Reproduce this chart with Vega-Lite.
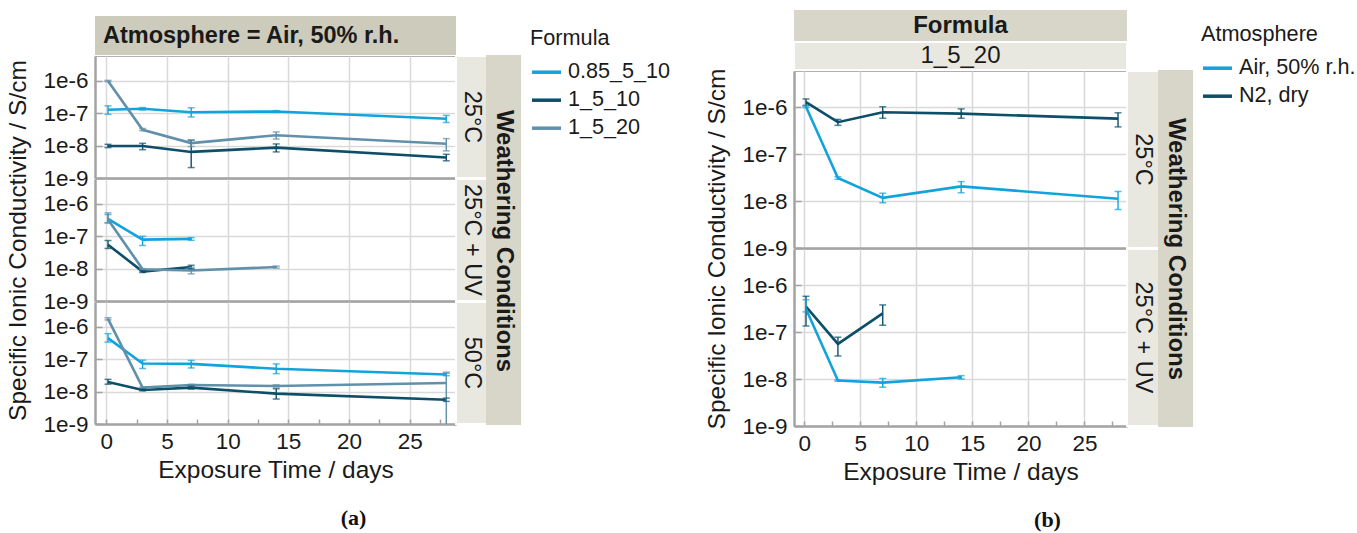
{
"$schema": "https://vega.github.io/schema/vega-lite/v6.json",
"padding": {"left": 5, "top": 10, "right": 0, "bottom": 0},
"autosize": {"type": "pad"},
"datasets": {
"a": [
{"cond":"25°C","f":"0.85_5_10","d":0.15,"v":1.28e-7,"lo":9.3e-8,"hi":1.7e-7},
{"cond":"25°C","f":"0.85_5_10","d":3,"v":1.38e-7,"lo":1.27e-7,"hi":1.5e-7},
{"cond":"25°C","f":"0.85_5_10","d":7,"v":1.08e-7,"lo":7.7e-8,"hi":1.48e-7},
{"cond":"25°C","f":"0.85_5_10","d":14,"v":1.14e-7,"lo":1.07e-7,"hi":1.21e-7},
{"cond":"25°C","f":"0.85_5_10","d":28,"v":6.8e-8,"lo":5.2e-8,"hi":8.6e-8},
{"cond":"25°C","f":"1_5_10","d":0.15,"v":9.8e-9,"lo":8.7e-9,"hi":1.1e-8},
{"cond":"25°C","f":"1_5_10","d":3,"v":9.7e-9,"lo":7.5e-9,"hi":1.18e-8},
{"cond":"25°C","f":"1_5_10","d":7,"v":6.4e-9,"lo":2.1e-9,"hi":1.48e-8},
{"cond":"25°C","f":"1_5_10","d":14,"v":8.7e-9,"lo":6.4e-9,"hi":1.13e-8},
{"cond":"25°C","f":"1_5_10","d":28,"v":4.3e-9,"lo":3.4e-9,"hi":5.4e-9},
{"cond":"25°C","f":"1_5_20","d":0.15,"v":1.0e-6,"lo":9.6e-7,"hi":1.04e-6},
{"cond":"25°C","f":"1_5_20","d":3,"v":3.1e-8,"lo":2.9e-8,"hi":3.4e-8},
{"cond":"25°C","f":"1_5_20","d":7,"v":1.2e-8,"lo":9.4e-9,"hi":1.5e-8},
{"cond":"25°C","f":"1_5_20","d":14,"v":2.1e-8,"lo":1.6e-8,"hi":2.65e-8},
{"cond":"25°C","f":"1_5_20","d":28,"v":1.15e-8,"lo":6.9e-9,"hi":1.65e-8},
{"cond":"25°C + UV","f":"0.85_5_10","d":0.15,"v":3.45e-7,"lo":2.6e-7,"hi":4.7e-7},
{"cond":"25°C + UV","f":"0.85_5_10","d":3,"v":7.9e-8,"lo":5.2e-8,"hi":1.0e-7},
{"cond":"25°C + UV","f":"0.85_5_10","d":7,"v":8.3e-8,"lo":7.5e-8,"hi":9.1e-8},
{"cond":"25°C + UV","f":"1_5_10","d":0.15,"v":5.5e-8,"lo":4.2e-8,"hi":7.4e-8},
{"cond":"25°C + UV","f":"1_5_10","d":3,"v":8.1e-9,"lo":7.6e-9,"hi":8.6e-9},
{"cond":"25°C + UV","f":"1_5_10","d":7,"v":1.12e-8,"lo":9.9e-9,"hi":1.27e-8},
{"cond":"25°C + UV","f":"1_5_20","d":0.15,"v":3.3e-7,"lo":2.6e-7,"hi":5.3e-7},
{"cond":"25°C + UV","f":"1_5_20","d":3,"v":9.6e-9,"lo":9.2e-9,"hi":1.0e-8},
{"cond":"25°C + UV","f":"1_5_20","d":7,"v":8.8e-9,"lo":6.9e-9,"hi":1.1e-8},
{"cond":"25°C + UV","f":"1_5_20","d":14,"v":1.12e-8,"lo":1.04e-8,"hi":1.2e-8},
{"cond":"50°C","f":"0.85_5_10","d":0.15,"v":4.5e-7,"lo":3.4e-7,"hi":6.2e-7},
{"cond":"50°C","f":"0.85_5_10","d":3,"v":7.4e-8,"lo":5.2e-8,"hi":9.4e-8},
{"cond":"50°C","f":"0.85_5_10","d":7,"v":7.2e-8,"lo":5.4e-8,"hi":9.2e-8},
{"cond":"50°C","f":"0.85_5_10","d":14,"v":5.1e-8,"lo":3.6e-8,"hi":7.2e-8},
{"cond":"50°C","f":"0.85_5_10","d":28,"v":3.4e-8,"lo":3.1e-8,"hi":3.7e-8},
{"cond":"50°C","f":"1_5_10","d":0.15,"v":2.0e-8,"lo":1.7e-8,"hi":2.4e-8},
{"cond":"50°C","f":"1_5_10","d":3,"v":1.13e-8,"lo":1.06e-8,"hi":1.2e-8},
{"cond":"50°C","f":"1_5_10","d":7,"v":1.33e-8,"lo":1.2e-8,"hi":1.48e-8},
{"cond":"50°C","f":"1_5_10","d":14,"v":8.7e-9,"lo":5.9e-9,"hi":1.23e-8},
{"cond":"50°C","f":"1_5_10","d":28,"v":5.6e-9,"lo":5.0e-9,"hi":6.3e-9},
{"cond":"50°C","f":"1_5_20","d":0.15,"v":1.78e-6,"lo":1.65e-6,"hi":1.92e-6},
{"cond":"50°C","f":"1_5_20","d":3,"v":1.33e-8,"lo":1.28e-8,"hi":1.38e-8},
{"cond":"50°C","f":"1_5_20","d":7,"v":1.6e-8,"lo":1.52e-8,"hi":1.68e-8},
{"cond":"50°C","f":"1_5_20","d":14,"v":1.5e-8,"lo":1.38e-8,"hi":1.63e-8},
{"cond":"50°C","f":"1_5_20","d":28,"v":1.85e-8,"lo":1e-10,"hi":4.0e-8}
],
"b": [
{"cond":"25°C","atm":"N2, dry","d":0.15,"v":1.28e-6,"lo":1.09e-6,"hi":1.5e-6},
{"cond":"25°C","atm":"N2, dry","d":3,"v":4.8e-7,"lo":4.1e-7,"hi":5.5e-7},
{"cond":"25°C","atm":"N2, dry","d":7,"v":7.8e-7,"lo":5.8e-7,"hi":1.02e-6},
{"cond":"25°C","atm":"N2, dry","d":14,"v":7.3e-7,"lo":5.8e-7,"hi":9.2e-7},
{"cond":"25°C","atm":"N2, dry","d":28,"v":5.7e-7,"lo":3.8e-7,"hi":7.6e-7},
{"cond":"25°C","atm":"Air, 50% r.h.","d":0.15,"v":1.02e-6,"lo":9.8e-7,"hi":1.06e-6},
{"cond":"25°C","atm":"Air, 50% r.h.","d":3,"v":3.1e-8,"lo":2.9e-8,"hi":3.3e-8},
{"cond":"25°C","atm":"Air, 50% r.h.","d":7,"v":1.17e-8,"lo":9.2e-9,"hi":1.47e-8},
{"cond":"25°C","atm":"Air, 50% r.h.","d":14,"v":2.05e-8,"lo":1.5e-8,"hi":2.6e-8},
{"cond":"25°C","atm":"Air, 50% r.h.","d":28,"v":1.12e-8,"lo":6.6e-9,"hi":1.6e-8},
{"cond":"25°C + UV","atm":"N2, dry","d":0.15,"v":3.5e-7,"lo":1.35e-7,"hi":5.8e-7},
{"cond":"25°C + UV","atm":"N2, dry","d":3,"v":5.6e-8,"lo":3.1e-8,"hi":7.8e-8},
{"cond":"25°C + UV","atm":"N2, dry","d":7,"v":2.5e-7,"lo":1.4e-7,"hi":3.8e-7},
{"cond":"25°C + UV","atm":"Air, 50% r.h.","d":0.15,"v":3.1e-7,"lo":2.7e-7,"hi":4.9e-7},
{"cond":"25°C + UV","atm":"Air, 50% r.h.","d":3,"v":9.3e-9,"lo":9.0e-9,"hi":9.6e-9},
{"cond":"25°C + UV","atm":"Air, 50% r.h.","d":7,"v":8.4e-9,"lo":6.7e-9,"hi":1.03e-8},
{"cond":"25°C + UV","atm":"Air, 50% r.h.","d":14,"v":1.09e-8,"lo":1.0e-8,"hi":1.18e-8}
]
},
"hconcat": [
{
"spacing": 0,
"vconcat": [
{"width": 10, "height": 6, "data": {"values": []}, "mark": "text"},
{
"columns": 3,
"spacing": {"row": 1, "column": 0},
"bounds": "flush",
"concat": [
{"width": 361, "height": 39, "view": {"fill": "#cdcbbc", "stroke": null},
 "data": {"values": [{"label": "Atmosphere = Air, 50% r.h."}]},
 "mark": {"type": "text", "align": "left", "dx": 8, "fontSize": 23.5, "fontWeight": "bold"},
 "encoding": {"text": {"field": "label"}, "x": {"datum": 0, "type": "quantitative", "scale": {"domain": [0, 1], "nice": false}, "axis": null}}},
{"width": 31, "height": 39, "data": {"values": []}, "mark": "text"},
{"width": 33, "height": 39, "data": {"values": []}, "mark": "text"},
{"width": 361, "height": 122, "view": {"stroke": "#b0b0b0", "strokeWidth": 1},
 "data": {"name": "a"}, "transform": [{"filter": {"field": "cond", "equal": "25°C"}}],
 "encoding": {
  "x": {"field": "d", "type": "quantitative", "scale": {"domain": [-0.92, 28.8], "nice": false, "zero": false}, "axis": {"values": [0,5,10,15,20,25], "labels": false, "ticks": false, "title": null}},
  "color": {"field": "f", "type": "nominal", "scale": {"domain": ["0.85_5_10","1_5_10","1_5_20"], "range": ["#13a3dc","#0d4e69","#6190aa"]}, "legend": {"title": "Formula", "orient": "none", "legendX": 435, "legendY": 18, "symbolType": "stroke", "symbolSize": 840, "symbolStrokeWidth": 3.5, "symbolOpacity": 1, "labelOffset": 5, "rowPadding": -1, "titlePadding": 6}}
 },
 "layer": [
  {"mark": {"type": "line", "strokeWidth": 2.6, "clip": true}, "encoding": {"y": {"field": "v", "type": "quantitative", "scale": {"type": "log", "domain": [1e-9, 5.9e-6], "nice": false}, "axis": {"values": [1e-9,1e-8,1e-7,1e-6], "format": ".0e", "labelOverlap": false, "tickSize": -7, "tickWidth": 1.5, "labelPadding": 14, "title": null}}}},
  {"mark": {"type": "rule", "strokeWidth": 1.4, "clip": true}, "encoding": {"y": {"field": "lo", "type": "quantitative", "scale": {"type": "log", "domain": [1e-9, 5.9e-6], "nice": false}, "axis": {"values": [1e-9,1e-8,1e-7,1e-6], "format": ".0e", "labelOverlap": false, "tickSize": -7, "tickWidth": 1.5, "labelPadding": 14, "title": null}}, "y2": {"field": "hi"}}},
  {"mark": {"type": "tick", "orient": "horizontal", "size": 7, "thickness": 1.5, "clip": true}, "encoding": {"y": {"field": "lo", "type": "quantitative", "scale": {"type": "log", "domain": [1e-9, 5.9e-6], "nice": false}, "axis": {"values": [1e-9,1e-8,1e-7,1e-6], "format": ".0e", "labelOverlap": false, "tickSize": -7, "tickWidth": 1.5, "labelPadding": 14, "title": null}}}},
  {"mark": {"type": "tick", "orient": "horizontal", "size": 7, "thickness": 1.5, "clip": true}, "encoding": {"y": {"field": "hi", "type": "quantitative", "scale": {"type": "log", "domain": [1e-9, 5.9e-6], "nice": false}, "axis": {"values": [1e-9,1e-8,1e-7,1e-6], "format": ".0e", "labelOverlap": false, "tickSize": -7, "tickWidth": 1.5, "labelPadding": 14, "title": null}}}}
 ]},
{"width": 31, "height": 122, "view": {"fill": "#e8e8e0", "stroke": "#ffffff", "strokeWidth": 2},
 "data": {"values": [{"label": "25°C"}]}, "mark": {"type": "text", "angle": 90, "fontSize": 23.5}, "encoding": {"text": {"field": "label"}}},
{"width": 33, "height": 122, "view": {"fill": "#d8d6c8", "stroke": "#d8d6c8", "strokeWidth": 2}, "data": {"values": []}, "mark": "text"},
{"width": 361, "height": 122, "view": {"stroke": "#b0b0b0", "strokeWidth": 1},
 "data": {"name": "a"}, "transform": [{"filter": {"field": "cond", "equal": "25°C + UV"}}],
 "encoding": {
  "x": {"field": "d", "type": "quantitative", "scale": {"domain": [-0.92, 28.8], "nice": false, "zero": false}, "axis": {"values": [0,5,10,15,20,25], "labels": false, "ticks": false, "title": null}},
  "color": {"field": "f", "type": "nominal", "scale": {"domain": ["0.85_5_10","1_5_10","1_5_20"], "range": ["#13a3dc","#0d4e69","#6190aa"]}, "legend": {"title": "Formula", "orient": "none", "legendX": 435, "legendY": 18, "symbolType": "stroke", "symbolSize": 840, "symbolStrokeWidth": 3.5, "symbolOpacity": 1, "labelOffset": 5, "rowPadding": -1, "titlePadding": 6}}
 },
 "layer": [
  {"mark": {"type": "line", "strokeWidth": 2.6, "clip": true}, "encoding": {"y": {"field": "v", "type": "quantitative", "scale": {"type": "log", "domain": [1e-9, 5.9e-6], "nice": false}, "axis": {"values": [1e-9,1e-8,1e-7,1e-6], "format": ".0e", "labelOverlap": false, "tickSize": -7, "tickWidth": 1.5, "labelPadding": 14, "title": "Specific Ionic Conductivity / S/cm", "titlePadding": 12}}}},
  {"mark": {"type": "rule", "strokeWidth": 1.4, "clip": true}, "encoding": {"y": {"field": "lo", "type": "quantitative", "scale": {"type": "log", "domain": [1e-9, 5.9e-6], "nice": false}, "axis": {"values": [1e-9,1e-8,1e-7,1e-6], "format": ".0e", "labelOverlap": false, "tickSize": -7, "tickWidth": 1.5, "labelPadding": 14, "title": "Specific Ionic Conductivity / S/cm", "titlePadding": 12}}, "y2": {"field": "hi"}}},
  {"mark": {"type": "tick", "orient": "horizontal", "size": 7, "thickness": 1.5, "clip": true}, "encoding": {"y": {"field": "lo", "type": "quantitative", "scale": {"type": "log", "domain": [1e-9, 5.9e-6], "nice": false}, "axis": {"values": [1e-9,1e-8,1e-7,1e-6], "format": ".0e", "labelOverlap": false, "tickSize": -7, "tickWidth": 1.5, "labelPadding": 14, "title": "Specific Ionic Conductivity / S/cm", "titlePadding": 12}}}},
  {"mark": {"type": "tick", "orient": "horizontal", "size": 7, "thickness": 1.5, "clip": true}, "encoding": {"y": {"field": "hi", "type": "quantitative", "scale": {"type": "log", "domain": [1e-9, 5.9e-6], "nice": false}, "axis": {"values": [1e-9,1e-8,1e-7,1e-6], "format": ".0e", "labelOverlap": false, "tickSize": -7, "tickWidth": 1.5, "labelPadding": 14, "title": "Specific Ionic Conductivity / S/cm", "titlePadding": 12}}}}
 ]},
{"width": 31, "height": 122, "view": {"fill": "#e8e8e0", "stroke": "#ffffff", "strokeWidth": 2},
 "data": {"values": [{"label": "25°C + UV"}]}, "mark": {"type": "text", "angle": 90, "fontSize": 23.5}, "encoding": {"text": {"field": "label"}}},
{"width": 33, "height": 122, "view": {"fill": "#d8d6c8", "stroke": "#d8d6c8", "strokeWidth": 2}, "data": {"values": []}, "mark": "text"},
{"width": 361, "height": 122, "view": {"stroke": "#b0b0b0", "strokeWidth": 1},
 "title": {"text": "(a)", "orient": "bottom", "anchor": "middle", "frame": "group", "dx": 78, "offset": 26, "font": "Liberation Serif", "fontWeight": "bold", "fontSize": 22, "color": "#111111"},
 "data": {"name": "a"}, "transform": [{"filter": {"field": "cond", "equal": "50°C"}}],
 "encoding": {
  "x": {"field": "d", "type": "quantitative", "scale": {"domain": [-0.92, 28.8], "nice": false, "zero": false}, "axis": {"values": [0,2.5,5,7.5,10,12.5,15,17.5,20,22.5,25,27.5], "labelExpr": "datum.value % 5 === 0 ? datum.label : ''", "gridOpacity": {"condition": {"test": "datum.value % 5 !== 0", "value": 0}, "value": 1}, "tickSize": -5, "tickWidth": 1.5, "labelPadding": 11, "labelFlush": false, "labelOverlap": false, "title": "Exposure Time / days", "titlePadding": 6}},
  "color": {"field": "f", "type": "nominal", "scale": {"domain": ["0.85_5_10","1_5_10","1_5_20"], "range": ["#13a3dc","#0d4e69","#6190aa"]}, "legend": {"title": "Formula", "orient": "none", "legendX": 435, "legendY": 18, "symbolType": "stroke", "symbolSize": 840, "symbolStrokeWidth": 3.5, "symbolOpacity": 1, "labelOffset": 5, "rowPadding": -1, "titlePadding": 6}}
 },
 "layer": [
  {"mark": {"type": "line", "strokeWidth": 2.6, "clip": true}, "encoding": {"y": {"field": "v", "type": "quantitative", "scale": {"type": "log", "domain": [1e-9, 5.9e-6], "nice": false}, "axis": {"values": [1e-9,1e-8,1e-7,1e-6], "format": ".0e", "labelOverlap": false, "tickSize": -7, "tickWidth": 1.5, "labelPadding": 14, "title": null}}}},
  {"mark": {"type": "rule", "strokeWidth": 1.4, "clip": true}, "encoding": {"y": {"field": "lo", "type": "quantitative", "scale": {"type": "log", "domain": [1e-9, 5.9e-6], "nice": false}, "axis": {"values": [1e-9,1e-8,1e-7,1e-6], "format": ".0e", "labelOverlap": false, "tickSize": -7, "tickWidth": 1.5, "labelPadding": 14, "title": null}}, "y2": {"field": "hi"}}},
  {"mark": {"type": "tick", "orient": "horizontal", "size": 7, "thickness": 1.5, "clip": true}, "encoding": {"y": {"field": "lo", "type": "quantitative", "scale": {"type": "log", "domain": [1e-9, 5.9e-6], "nice": false}, "axis": {"values": [1e-9,1e-8,1e-7,1e-6], "format": ".0e", "labelOverlap": false, "tickSize": -7, "tickWidth": 1.5, "labelPadding": 14, "title": null}}}},
  {"mark": {"type": "tick", "orient": "horizontal", "size": 7, "thickness": 1.5, "clip": true}, "encoding": {"y": {"field": "hi", "type": "quantitative", "scale": {"type": "log", "domain": [1e-9, 5.9e-6], "nice": false}, "axis": {"values": [1e-9,1e-8,1e-7,1e-6], "format": ".0e", "labelOverlap": false, "tickSize": -7, "tickWidth": 1.5, "labelPadding": 14, "title": null}}}}
 ]},
{"width": 31, "height": 122, "view": {"fill": "#e8e8e0", "stroke": "#ffffff", "strokeWidth": 2},
 "data": {"values": [{"label": "50°C"}]}, "mark": {"type": "text", "angle": 90, "fontSize": 23.5}, "encoding": {"text": {"field": "label"}}},
{"width": 33, "height": 122, "view": {"fill": "#d8d6c8", "stroke": "#d8d6c8", "strokeWidth": 2},
 "data": {"values": [{"label": "Weathering Conditions"}]}, "mark": {"type": "text", "angle": 90, "fontSize": 24, "fontWeight": "bold"},
 "encoding": {"text": {"field": "label"}, "y": {"datum": 1.5, "type": "quantitative", "scale": {"domain": [0, 1], "nice": false, "zero": false}, "axis": null}}}
]
}
]
},
{
"columns": 3,
"spacing": {"row": 1, "column": 0},
"bounds": "flush",
"concat": [
{"width": 333, "height": 31, "view": {"fill": "#d8d6c8", "stroke": null},
 "data": {"values": [{"label": "Formula"}]}, "mark": {"type": "text", "fontSize": 24, "fontWeight": "bold"}, "encoding": {"text": {"field": "label"}}},
{"width": 32, "height": 31, "data": {"values": []}, "mark": "text"},
{"width": 33, "height": 31, "data": {"values": []}, "mark": "text"},
{"width": 333, "height": 28, "view": {"fill": "#e8e8e0", "stroke": "#ffffff", "strokeWidth": 2},
 "data": {"values": [{"label": "1_5_20"}]}, "mark": {"type": "text", "fontSize": 24}, "encoding": {"text": {"field": "label"}}},
{"width": 32, "height": 28, "data": {"values": []}, "mark": "text"},
{"width": 33, "height": 28, "data": {"values": []}, "mark": "text"},
{"width": 333, "height": 177, "view": {"stroke": "#b0b0b0", "strokeWidth": 1},
 "data": {"name": "b"}, "transform": [{"filter": {"field": "cond", "equal": "25°C"}}],
 "encoding": {
  "x": {"field": "d", "type": "quantitative", "scale": {"domain": [-0.92, 28.8], "nice": false, "zero": false}, "axis": {"values": [0,5,10,15,20,25], "labels": false, "ticks": false, "title": null}},
  "color": {"field": "atm", "type": "nominal", "scale": {"domain": ["Air, 50% r.h.","N2, dry"], "range": ["#13a3dc","#0d4e69"]}, "legend": {"title": "Atmosphere", "orient": "none", "legendX": 407, "legendY": 14, "symbolType": "stroke", "symbolSize": 840, "symbolStrokeWidth": 3.5, "symbolOpacity": 1, "labelOffset": 5, "rowPadding": -1, "titlePadding": 6}}
 },
 "layer": [
  {"mark": {"type": "line", "strokeWidth": 2.6, "clip": true}, "encoding": {"y": {"field": "v", "type": "quantitative", "scale": {"type": "log", "domain": [1e-9, 5.9e-6], "nice": false}, "axis": {"values": [1e-9,1e-8,1e-7,1e-6], "format": ".0e", "labelOverlap": false, "tickSize": -7, "tickWidth": 1.5, "labelPadding": 14, "title": "Specific Ionic Conductivity / S/cm", "titlePadding": 12, "titleY": 177.5}}}},
  {"mark": {"type": "rule", "strokeWidth": 1.4, "clip": true}, "encoding": {"y": {"field": "lo", "type": "quantitative", "scale": {"type": "log", "domain": [1e-9, 5.9e-6], "nice": false}, "axis": {"values": [1e-9,1e-8,1e-7,1e-6], "format": ".0e", "labelOverlap": false, "tickSize": -7, "tickWidth": 1.5, "labelPadding": 14, "title": "Specific Ionic Conductivity / S/cm", "titlePadding": 12, "titleY": 177.5}}, "y2": {"field": "hi"}}},
  {"mark": {"type": "tick", "orient": "horizontal", "size": 7, "thickness": 1.5, "clip": true}, "encoding": {"y": {"field": "lo", "type": "quantitative", "scale": {"type": "log", "domain": [1e-9, 5.9e-6], "nice": false}, "axis": {"values": [1e-9,1e-8,1e-7,1e-6], "format": ".0e", "labelOverlap": false, "tickSize": -7, "tickWidth": 1.5, "labelPadding": 14, "title": "Specific Ionic Conductivity / S/cm", "titlePadding": 12, "titleY": 177.5}}}},
  {"mark": {"type": "tick", "orient": "horizontal", "size": 7, "thickness": 1.5, "clip": true}, "encoding": {"y": {"field": "hi", "type": "quantitative", "scale": {"type": "log", "domain": [1e-9, 5.9e-6], "nice": false}, "axis": {"values": [1e-9,1e-8,1e-7,1e-6], "format": ".0e", "labelOverlap": false, "tickSize": -7, "tickWidth": 1.5, "labelPadding": 14, "title": "Specific Ionic Conductivity / S/cm", "titlePadding": 12, "titleY": 177.5}}}}
 ]},
{"width": 32, "height": 177, "view": {"fill": "#e8e8e0", "stroke": "#ffffff", "strokeWidth": 2},
 "data": {"values": [{"label": "25°C"}]}, "mark": {"type": "text", "angle": 90, "fontSize": 23.5}, "encoding": {"text": {"field": "label"}}},
{"width": 33, "height": 177, "view": {"fill": "#d8d6c8", "stroke": "#d8d6c8", "strokeWidth": 2}, "data": {"values": []}, "mark": "text"},
{"width": 333, "height": 177, "view": {"stroke": "#b0b0b0", "strokeWidth": 1},
 "title": {"text": "(b)", "orient": "bottom", "anchor": "middle", "frame": "group", "dx": 87, "offset": 26, "font": "Liberation Serif", "fontWeight": "bold", "fontSize": 22, "color": "#111111"},
 "data": {"name": "b"}, "transform": [{"filter": {"field": "cond", "equal": "25°C + UV"}}],
 "encoding": {
  "x": {"field": "d", "type": "quantitative", "scale": {"domain": [-0.92, 28.8], "nice": false, "zero": false}, "axis": {"values": [0,2.5,5,7.5,10,12.5,15,17.5,20,22.5,25,27.5], "labelExpr": "datum.value % 5 === 0 ? datum.label : ''", "gridOpacity": {"condition": {"test": "datum.value % 5 !== 0", "value": 0}, "value": 1}, "tickSize": -5, "tickWidth": 1.5, "labelPadding": 11, "labelFlush": false, "labelOverlap": false, "title": "Exposure Time / days", "titlePadding": 6}},
  "color": {"field": "atm", "type": "nominal", "scale": {"domain": ["Air, 50% r.h.","N2, dry"], "range": ["#13a3dc","#0d4e69"]}, "legend": {"title": "Atmosphere", "orient": "none", "legendX": 407, "legendY": 14, "symbolType": "stroke", "symbolSize": 840, "symbolStrokeWidth": 3.5, "symbolOpacity": 1, "labelOffset": 5, "rowPadding": -1, "titlePadding": 6}}
 },
 "layer": [
  {"mark": {"type": "line", "strokeWidth": 2.6, "clip": true}, "encoding": {"y": {"field": "v", "type": "quantitative", "scale": {"type": "log", "domain": [1e-9, 5.9e-6], "nice": false}, "axis": {"values": [1e-9,1e-8,1e-7,1e-6], "format": ".0e", "labelOverlap": false, "tickSize": -7, "tickWidth": 1.5, "labelPadding": 14, "title": null}}}},
  {"mark": {"type": "rule", "strokeWidth": 1.4, "clip": true}, "encoding": {"y": {"field": "lo", "type": "quantitative", "scale": {"type": "log", "domain": [1e-9, 5.9e-6], "nice": false}, "axis": {"values": [1e-9,1e-8,1e-7,1e-6], "format": ".0e", "labelOverlap": false, "tickSize": -7, "tickWidth": 1.5, "labelPadding": 14, "title": null}}, "y2": {"field": "hi"}}},
  {"mark": {"type": "tick", "orient": "horizontal", "size": 7, "thickness": 1.5, "clip": true}, "encoding": {"y": {"field": "lo", "type": "quantitative", "scale": {"type": "log", "domain": [1e-9, 5.9e-6], "nice": false}, "axis": {"values": [1e-9,1e-8,1e-7,1e-6], "format": ".0e", "labelOverlap": false, "tickSize": -7, "tickWidth": 1.5, "labelPadding": 14, "title": null}}}},
  {"mark": {"type": "tick", "orient": "horizontal", "size": 7, "thickness": 1.5, "clip": true}, "encoding": {"y": {"field": "hi", "type": "quantitative", "scale": {"type": "log", "domain": [1e-9, 5.9e-6], "nice": false}, "axis": {"values": [1e-9,1e-8,1e-7,1e-6], "format": ".0e", "labelOverlap": false, "tickSize": -7, "tickWidth": 1.5, "labelPadding": 14, "title": null}}}}
 ]},
{"width": 32, "height": 177, "view": {"fill": "#e8e8e0", "stroke": "#ffffff", "strokeWidth": 2},
 "data": {"values": [{"label": "25°C + UV"}]}, "mark": {"type": "text", "angle": 90, "fontSize": 23.5}, "encoding": {"text": {"field": "label"}}},
{"width": 33, "height": 177, "view": {"fill": "#d8d6c8", "stroke": "#d8d6c8", "strokeWidth": 2},
 "data": {"values": [{"label": "Weathering Conditions"}]}, "mark": {"type": "text", "angle": 90, "fontSize": 24, "fontWeight": "bold"},
 "encoding": {"text": {"field": "label"}, "y": {"datum": 1, "type": "quantitative", "scale": {"domain": [0, 1], "nice": false, "zero": false}, "axis": null}}}
]
}
],
"spacing": 33,
"resolve": {"scale": {"color": "independent"}},
"config": {
"font": "Liberation Sans",
"view": {"stroke": null},
"axis": {"labelFontSize": 22.5, "labelColor": "#1a1a1a", "titleFontSize": 24.5, "titleFontWeight": "normal", "titleColor": "#1a1a1a", "domainColor": "#a3a3a3", "domainWidth": 2.5, "gridColor": "#d9d9d9", "gridWidth": 1.5, "tickColor": "#a3a3a3"},
"legend": {"titleFontSize": 21.7, "titleFontWeight": "normal", "titleColor": "#1a1a1a", "labelFontSize": 21.6, "labelColor": "#1a1a1a", "padding": 0, "symbolOpacity": 1},
"text": {"font": "Liberation Sans", "color": "#1a1a1a"}
}
}
